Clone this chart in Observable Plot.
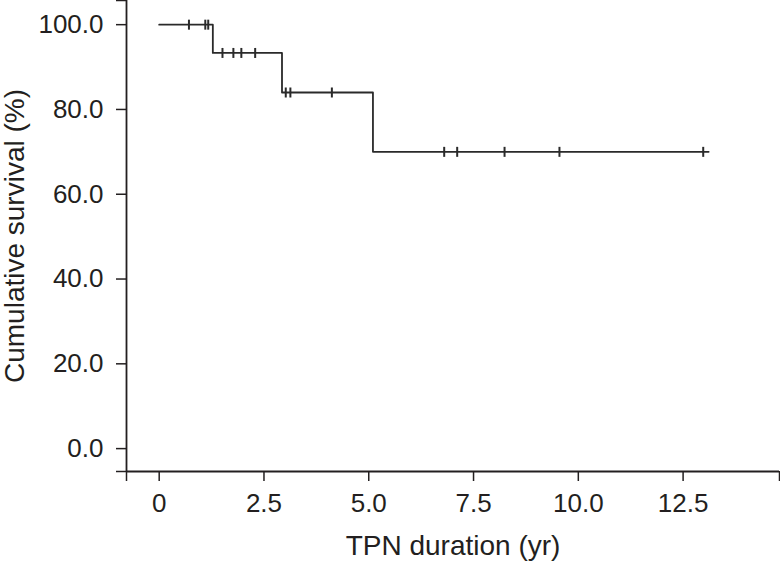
<!DOCTYPE html>
<html>
<head>
<meta charset="utf-8">
<script src="https://cdn.jsdelivr.net/npm/d3@7"></script>
<script src="https://cdn.jsdelivr.net/npm/@observablehq/plot@0.6"></script>
<style>
  html, body { margin: 0; padding: 0; background: #fff; }
  #chart { width: 780px; height: 563px; }
</style>
</head>
<body>
<div id="chart"></div>
<script>
// Kaplan–Meier steps (event times, survival %)
const stepTimes = [0, 1.28, 2.93, 5.10, 13.11];
const stepSurv  = [100, 93.33, 84.0, 70.0, 70.0];
// Censored observations
const censorTimes = [0.71, 1.10, 1.17, 1.51, 1.77, 1.96, 2.29, 3.02, 3.13, 4.12, 6.80, 7.11, 8.24, 9.55, 12.98];
const censorSurv  = [100, 100, 100, 93.33, 93.33, 93.33, 93.33, 84.0, 84.0, 84.0, 70.0, 70.0, 70.0, 70.0, 70.0];
// Axis ticks
const xTicks = [0, 2.5, 5, 7.5, 10, 12.5];
const yTicks = [0, 20, 40, 60, 80, 100];
const xLabel = "TPN duration (yr)";
const yLabel = "Cumulative survival (%)";

const xDomain = [-0.78, 14.8];
const yDomain = [-5.4, 105.7];

const steps = stepTimes.map((t, i) => ({t, s: stepSurv[i]}));
const censored = censorTimes.map((t, i) => ({t, s: censorSurv[i]}));

const ink = "#231f20";
const bar = { draw(ctx) { ctx.moveTo(0, -5); ctx.lineTo(0, 5); } };

const chart = Plot.plot({
  width: 780,
  height: 563,
  marginLeft: 126,
  marginRight: 1,
  marginTop: 0,
  marginBottom: 92,
  x: {domain: xDomain},
  y: {domain: yDomain},
  style: {fontFamily: "'Liberation Sans', Arial, sans-serif", color: ink, background: "#fff"},
  marks: [
    Plot.ruleX([xDomain[0]], {stroke: ink, strokeWidth: 1.8}),
    Plot.ruleY([yDomain[0]], {stroke: ink, strokeWidth: 1.8}),
    Plot.axisY({ticks: yTicks, tickFormat: d => d.toFixed(1), tickSize: 10, tickPadding: 13,
      fontSize: 26, stroke: ink, strokeWidth: 1.5, label: null}),
    Plot.axisY({ticks: yDomain, tickFormat: () => "", tickSize: 10, stroke: ink, strokeWidth: 1.5, label: null}),
    Plot.axisX({ticks: xTicks, tickFormat: d => d === 0 ? "0" : d.toFixed(1), tickSize: 10, tickPadding: 12,
      fontSize: 26, stroke: ink, strokeWidth: 1.5, label: null}),
    Plot.axisX({ticks: xDomain, tickFormat: () => "", tickSize: 10, stroke: ink, strokeWidth: 1.5, label: null}),
    Plot.text([xLabel], {frameAnchor: "bottom", dy: 75, lineAnchor: "middle", textAnchor: "middle", fontSize: 28, fill: ink}),
    Plot.text([yLabel], {frameAnchor: "left", dx: -111, rotate: -90, lineAnchor: "middle", textAnchor: "middle", fontSize: 28, fill: ink}),
    Plot.line(steps, {x: "t", y: "s", curve: "step-after", stroke: "#2a2a2a", strokeWidth: 1.8}),
    Plot.dot(censored, {x: "t", y: "s", symbol: bar, stroke: "#2a2a2a", strokeWidth: 2, fill: "none", r: 5})
  ]
});
document.getElementById("chart").appendChild(chart);
</script>
</body>
</html>
